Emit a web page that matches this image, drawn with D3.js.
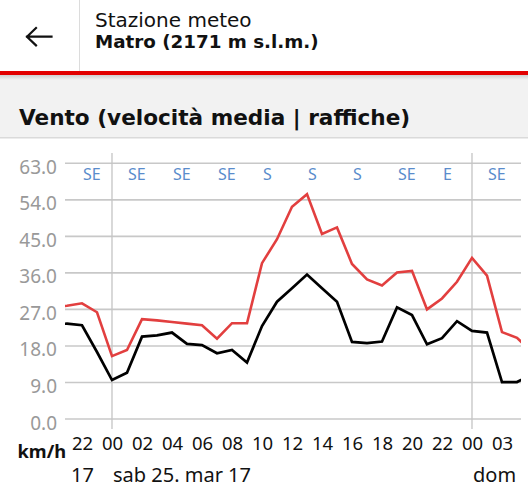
<!DOCTYPE html>
<html><head><meta charset="utf-8">
<script src="https://cdn.jsdelivr.net/npm/d3@7"></script>
<style>
html,body{margin:0;padding:0;background:#fff;}
svg{display:block;}
</style></head>
<body>
<script>
// ---- data ----
const hours = [
 "2017-03-24T20:00","2017-03-24T21:00","2017-03-24T22:00","2017-03-24T23:00",
 "2017-03-25T00:00","2017-03-25T01:00","2017-03-25T02:00","2017-03-25T03:00","2017-03-25T04:00","2017-03-25T05:00",
 "2017-03-25T06:00","2017-03-25T07:00","2017-03-25T08:00","2017-03-25T09:00","2017-03-25T10:00","2017-03-25T11:00",
 "2017-03-25T12:00","2017-03-25T13:00","2017-03-25T14:00","2017-03-25T15:00","2017-03-25T16:00","2017-03-25T17:00",
 "2017-03-25T18:00","2017-03-25T19:00","2017-03-25T20:00","2017-03-25T21:00","2017-03-25T22:00","2017-03-25T23:00",
 "2017-03-26T00:00","2017-03-26T01:00","2017-03-26T02:00","2017-03-26T03:00","2017-03-26T04:00"];
const meanSpeed = [23.3,23.5,23.1,16.5, 9.6,11.4,20.3,20.6,21.3,18.5, 18.2,16.2,17.0,13.9,22.9,28.9,
 32.2,35.6,32.2,28.9,19.0,18.7, 19.1,27.5,25.6,18.4,19.9,24.1, 21.7,21.3,9.1,9.1,11.0];
const gusts = [27.5,27.9,28.5,26.3, 15.5,17.0,24.6,24.3,23.9,23.5, 23.1,19.8,23.6,23.6,38.4,44.3,
 52.3,55.4,45.6,47.2,38.2,34.4, 32.9,36.1,36.5,27.0,29.7,33.8, 39.7,35.3,21.4,20.0,16.5];
const dirTimes = ["2017-03-24T22:00","2017-03-25T01:00","2017-03-25T04:00","2017-03-25T07:00","2017-03-25T10:00",
 "2017-03-25T13:00","2017-03-25T16:00","2017-03-25T19:00","2017-03-25T22:00","2017-03-26T01:00"];
const dirLabels = ["SE","SE","SE","SE","S","S","S","SE","E","SE"];
const yTicks = [0,9,18,27,36,45,54,63];
const xTickTimes = ["2017-03-24T22:00","2017-03-25T00:00","2017-03-25T02:00","2017-03-25T04:00","2017-03-25T06:00",
 "2017-03-25T08:00","2017-03-25T10:00","2017-03-25T12:00","2017-03-25T14:00","2017-03-25T16:00","2017-03-25T18:00",
 "2017-03-25T20:00","2017-03-25T22:00","2017-03-26T00:00","2017-03-26T02:00"];
// local clock labels (DST switch on 26 March: 02:00 becomes 03:00)
const xTickLabels = ["22","00","02","04","06","08","10","12","14","16","18","20","22","00","03"];
const dayTimes = ["2017-03-24T00:00","2017-03-25T00:00","2017-03-26T00:00"];
const dayLabels = ["17","sab 25. mar 17","dom"];
const midnights = ["2017-03-25T00:00","2017-03-26T00:00"];

const W = 528, H = 496;
const parse = s => new Date(s);
const svg = d3.select("body").append("svg").attr("width", W).attr("height", H);

// ---- header ----
svg.append("rect").attr("x",0).attr("y",0).attr("width",W).attr("height",71).attr("fill","#fff");
svg.append("line").attr("x1",79.5).attr("x2",79.5).attr("y1",0).attr("y2",71).attr("stroke","#dcdcdc").attr("stroke-width",1);
svg.append("path").attr("d","M27,36.7 L51.5,36.7 M36,28 L27,36.7 L36,45.4")
  .attr("fill","none").attr("stroke","#111").attr("stroke-width",2.2).attr("stroke-linecap","square");
svg.append("text").attr("x",95).attr("y",27).attr("font-family","DejaVu Sans").attr("font-size",20)
  .attr("fill","#111").text("Stazione meteo");
svg.append("text").attr("x",95).attr("y",47.5).attr("font-family","DejaVu Sans").attr("font-weight","bold")
  .attr("font-size",18.3).attr("fill","#111").text("Matro (2171 m s.l.m.)");
// title band
svg.append("rect").attr("x",0).attr("y",71).attr("width",W).attr("height",67).attr("fill","#f2f2f2");
const grad = svg.append("defs").append("linearGradient").attr("id","sh").attr("x1",0).attr("x2",0).attr("y1",0).attr("y2",1);
grad.append("stop").attr("offset","0").attr("stop-color","#cfcfcf");
grad.append("stop").attr("offset","1").attr("stop-color","#f2f2f2");
svg.append("rect").attr("x",0).attr("y",75).attr("width",W).attr("height",5).attr("fill","url(#sh)");
svg.append("rect").attr("x",0).attr("y",71).attr("width",W).attr("height",4).attr("fill","#e20000");
svg.append("rect").attr("x",0).attr("y",137).attr("width",W).attr("height",1.5).attr("fill","#dadada");
svg.append("text").attr("x",19).attr("y",125).attr("font-family","DejaVu Sans").attr("font-weight","bold")
  .attr("font-size",21.6).attr("fill","#111").text("Vento (velocità media | raffiche)");

// ---- chart ----
const x = d3.scaleTime().domain([new Date(2017,2,24,20,52), new Date(2017,2,26,3,16)]).range([65,521]);
const y = d3.scaleLinear().domain([0,63]).range([419,163.3]);

svg.append("defs").append("clipPath").attr("id","plot").append("rect")
  .attr("x",65).attr("y",140).attr("width",456).attr("height",300);

// horizontal gridlines
svg.append("g").selectAll("line").data(yTicks).join("line")
  .attr("x1",65).attr("x2",521).attr("y1",d=>y(d)).attr("y2",d=>y(d))
  .attr("stroke","#c8c8c8").attr("stroke-width",1.6);
// midnight verticals
svg.append("g").selectAll("line").data(midnights).join("line")
  .attr("x1",d=>x(parse(d))).attr("x2",d=>x(parse(d))).attr("y1",153).attr("y2",429)
  .attr("stroke","#c4c4c4").attr("stroke-width",1.3);

// y axis labels
const yAxis = d3.axisLeft(y).tickValues(yTicks).tickFormat(d3.format(".1f")).tickSize(0).tickPadding(0);
const ya = svg.append("g").attr("transform","translate(57,0)").call(yAxis);
ya.select(".domain").remove();
ya.selectAll("text").attr("font-family","Noto Sans").attr("font-size",19).attr("fill","#999")
  .attr("dy",null).attr("y",10);

// x axis labels (hours)
const xAxis = d3.axisBottom(x).tickValues(xTickTimes.map(parse))
  .tickFormat((d,i)=>xTickLabels[i]).tickSize(0).tickPadding(0);
const xa = svg.append("g").call(xAxis);
xa.select(".domain").remove();
xa.selectAll("text").attr("font-family","Noto Sans").attr("font-size",18.5).attr("fill","#111")
  .attr("dy",null).attr("y",450);

// day labels
svg.append("g").selectAll("text").data(dayTimes).join("text")
  .attr("x",(d,i)=> i===0 ? 94 : x(parse(d))+1)
  .attr("text-anchor",(d,i)=> i===0 ? "end" : "start")
  .attr("y",481.7).attr("font-family","Noto Sans").attr("font-size",20).attr("fill","#111")
  .text((d,i)=>dayLabels[i]);

svg.append("text").attr("x",17.5).attr("y",458).attr("font-family","Noto Sans").attr("font-weight","bold")
  .attr("font-size",18.3).attr("fill","#111").text("km/h");

// direction labels
svg.append("g").selectAll("text").data(dirTimes).join("text")
  .attr("x",d=>x(parse(d))+1).attr("y",180).attr("font-family","Noto Sans").attr("font-size",16)
  .attr("fill","#5a8ccc").text((d,i)=>dirLabels[i]);

// lines
const pts = arr => arr.map((v,i)=>[parse(hours[i]), v]);
const line = d3.line().x(d=>x(d[0])).y(d=>y(d[1]));
const lg = svg.append("g").attr("clip-path","url(#plot)");
lg.append("path").datum(pts(gusts)).attr("d",line).attr("fill","none")
  .attr("stroke","#e23f3f").attr("stroke-width",2.6).attr("stroke-linejoin","miter");
lg.append("path").datum(pts(meanSpeed)).attr("d",line).attr("fill","none")
  .attr("stroke","#000").attr("stroke-width",2.7).attr("stroke-linejoin","miter");
</script>
</body></html>
